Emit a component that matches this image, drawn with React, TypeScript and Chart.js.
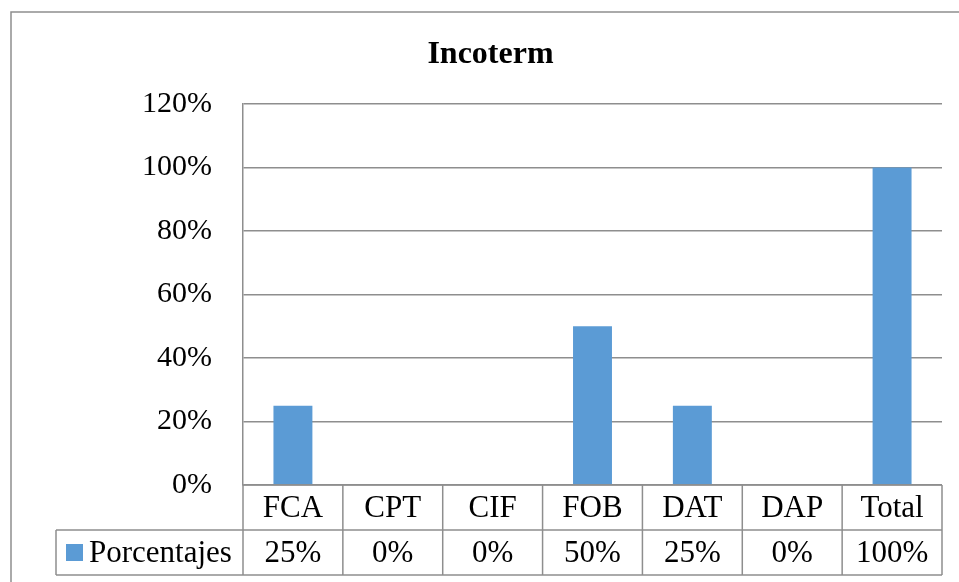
import React, { useEffect, useRef } from "react";
import { Chart, registerables } from "chart.js";

Chart.register(...registerables);

const categories = ["FCA", "CPT", "CIF", "FOB", "DAT", "DAP", "Total"];
const porcentajes = [0.25, 0, 0, 0.5, 0.25, 0, 1];
const seriesName = "Porcentajes";
const chartTitle = "Incoterm";

const SERIF = "'Liberation Serif', 'Times New Roman', serif";
const BAR_COLOR = "#5B9BD5";
const LINE_COLOR = "#8e8e8e";

const fmtPct = (v: number) => `${Math.round(v * 100)}%`;

// Draws the frame, the title and the Excel-style data table beneath the plot.
const tablePlugin = {
  id: "dataTable",
  afterDraw(chart: any) {
    const { ctx, chartArea, scales } = chart;
    const x = scales.x;
    const left = chartArea.left;
    const right = chartArea.right;
    const top = chartArea.bottom;
    const rowH = 45;
    const row1 = top + rowH;
    const row2 = row1 + rowH;
    const legendLeft = 56;
    const n = categories.length;
    const step = (right - left) / n;

    ctx.save();
    // outer frame
    ctx.strokeStyle = LINE_COLOR;
    ctx.lineWidth = 1.5;
    ctx.beginPath();
    ctx.moveTo(11, 600);
    ctx.lineTo(11, 12);
    ctx.lineTo(1000, 12);
    ctx.stroke();

    // title
    ctx.fillStyle = "#000";
    ctx.font = `bold 32px ${SERIF}`;
    ctx.textAlign = "center";
    ctx.textBaseline = "alphabetic";
    ctx.fillText(chartTitle, 490.5, 63);

    // table lines
    ctx.strokeStyle = LINE_COLOR;
    ctx.lineWidth = 1.5;
    ctx.beginPath();
    ctx.moveTo(left, top);
    ctx.lineTo(right, top);
    ctx.moveTo(legendLeft, row1);
    ctx.lineTo(right, row1);
    ctx.moveTo(legendLeft, row2);
    ctx.lineTo(right, row2);
    ctx.moveTo(legendLeft, row1);
    ctx.lineTo(legendLeft, row2);
    for (let i = 0; i <= n; i++) {
      const cx = left + i * step;
      ctx.moveTo(cx, top);
      ctx.lineTo(cx, row2);
    }
    ctx.stroke();

    // category and value text
    ctx.fillStyle = "#000";
    ctx.font = `31px ${SERIF}`;
    ctx.textAlign = "center";
    ctx.textBaseline = "middle";
    categories.forEach((c, i) => {
      const cx = x.getPixelForValue(i);
      ctx.fillText(c, cx, top + rowH / 2 + 1);
      ctx.fillText(fmtPct(porcentajes[i]), cx, row1 + rowH / 2 + 1);
    });

    // legend key
    ctx.fillStyle = BAR_COLOR;
    ctx.fillRect(66, row1 + 14, 17, 17);
    ctx.fillStyle = "#000";
    ctx.textAlign = "left";
    ctx.fillText(seriesName, 89, row1 + rowH / 2 + 1);
    ctx.restore();
  },
};

export default function App() {
  const canvasRef = useRef<HTMLCanvasElement | null>(null);

  useEffect(() => {
    if (!canvasRef.current) return;
    const chart = new Chart(canvasRef.current, {
      type: "bar",
      data: {
        labels: categories,
        datasets: [
          {
            label: seriesName,
            data: porcentajes,
            backgroundColor: BAR_COLOR,
            barPercentage: 0.39,
            categoryPercentage: 1,
          },
        ],
      },
      options: {
        animation: false,
        responsive: false,
        layout: { padding: { top: 104, bottom: 97, right: 17, left: 0 } },
        plugins: {
          legend: { display: false },
          title: { display: false },
          tooltip: { enabled: false },
        },
        scales: {
          x: { display: false },
          y: {
            min: 0,
            max: 1.2,
            afterFit: (axis: any) => {
              axis.width = 243;
            },
            ticks: {
              stepSize: 0.2,
              padding: 31,
              color: "#000",
              font: { family: SERIF, size: 30 },
              callback: (v: any) => fmtPct(Number(v)),
            },
            grid: {
              color: LINE_COLOR,
              lineWidth: 1.5,
              drawTicks: false,
              tickLength: 0,
            },
            border: { display: true, color: LINE_COLOR, width: 1.5 },
          },
        },
      },
      plugins: [tablePlugin],
    });
    return () => chart.destroy();
  }, []);

  return (
    <div style={{ position: "absolute", left: 0, top: 0, width: 959, height: 582, background: "#fff" }}>
      <canvas ref={canvasRef} width={959} height={582} />
    </div>
  );
}
